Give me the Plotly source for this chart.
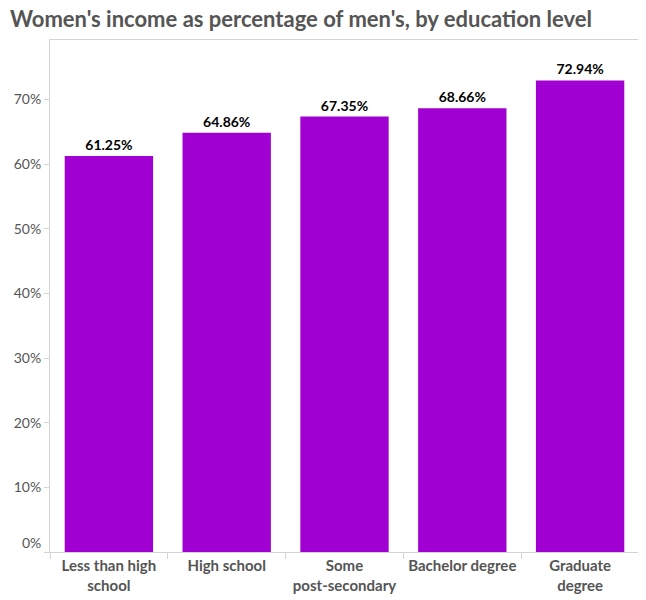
import plotly.graph_objects as go

categories = ["Less than high<br>school", "High school", "Some<br>post-secondary", "Bachelor degree", "Graduate<br>degree"]
pct_of_mens = [61.25, 64.86, 67.35, 68.66, 72.94]
y_ticks = [0, 10, 20, 30, 40, 50, 60, 70]
y_tick_labels = ["", "10%", "20%", "30%", "40%", "50%", "60%", "70%"]

bar_color = "#A100D3"
axis_color = "#D4D4D4"
label_color = "#555555"
font_family = "Lato, 'Open Sans', sans-serif"

fig_w = 638
fig_h = 592

fig = go.Figure()

fig.add_trace(go.Bar(x=categories,
                     y=pct_of_mens,
                     marker_color=bar_color,
                     marker_line_width=0,
                     texttemplate="%{y:.2f}%",
                     textposition="outside",
                     textfont=dict(family=font_family, size=14, color="black", weight="bold"),
                     cliponaxis=False,
                     showlegend=False))

# the 0% label sits just above the axis line, as in the original
fig.add_annotation(x=0, xref="paper", xanchor="right", xshift=-7,
                   y=0, yref="y", yanchor="middle", yshift=10,
                   text="0%", showarrow=False,
                   font=dict(family=font_family, size=14, color=label_color))

fig.update_xaxes(
    showline=True,
    linecolor=axis_color,
    linewidth=1,
    mirror=True,
    ticks="outside",
    tickson="boundaries",
    ticklen=6,
    tickcolor=axis_color,
    tickfont=dict(family=font_family, size=15, color=label_color, weight="bold"),
    tickangle=0,
    showgrid=False,
)
fig.update_yaxes(
    range=[0, 79.2],
    showline=True,
    linecolor=axis_color,
    linewidth=1,
    mirror=True,
    ticks="outside",
    ticklen=5,
    tickcolor=axis_color,
    tickvals=y_ticks,
    ticktext=y_tick_labels,
    tickfont=dict(family=font_family, size=14, color=label_color),
    showgrid=False,
    zeroline=False,
)
fig.update_layout(
    width=fig_w,
    height=fig_h,
    bargap=0.25,
    plot_bgcolor="white",
    paper_bgcolor="white",
    margin=dict(l=40, r=6, t=32, b=48),
    title=dict(
        text="<b>Women's income as percentage of men's, by education level</b>",
        x=2 / fig_w,
        xanchor="left",
        y=1 - 4 / fig_h,
        yanchor="top",
        font=dict(family=font_family, size=22, color=label_color),
    ),
    font=dict(family=font_family),
)
fig.write_html("out.html")
